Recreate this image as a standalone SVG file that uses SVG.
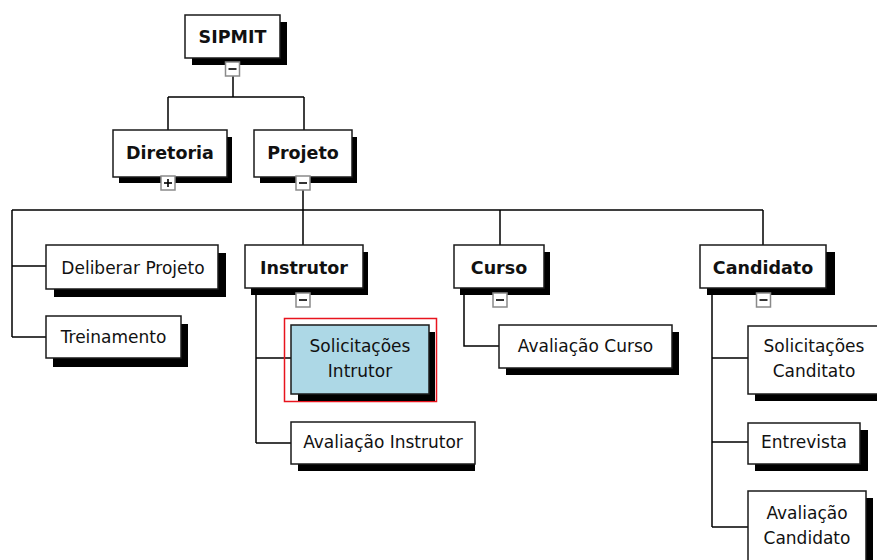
<svg xmlns="http://www.w3.org/2000/svg" width="877" height="560" viewBox="0 0 877 560">
<defs>
<style>
.box{fill:#fff;stroke:#1a1a1a;stroke-width:1.5}
.sel{fill:#add8e6;stroke:#1a1a1a;stroke-width:1.5}
.sh{fill:#000}
.c{fill:none;stroke:#000;stroke-width:1.5}
.b{font-family:"DejaVu Sans",Verdana,sans-serif;font-weight:bold;font-size:17.5px;fill:#111;text-anchor:middle}
.r{font-family:"DejaVu Sans",Verdana,sans-serif;font-size:17px;fill:#111;text-anchor:middle}
.tg{fill:#fff;stroke:#8a8a8a;stroke-width:1.5}
.tm{stroke:#000;stroke-width:1.6}
</style>
</defs>
<rect width="877" height="560" fill="#fff"/>
<g id="connectors">
<path class="c" d="M233 76V97M168 97H304M168 97V130M304 97V130"/>
<path class="c" d="M303 190V210M12 210H763M12 210V337M12 266H46M12 337H46"/>
<path class="c" d="M303 210V245M500 210V245M763 210V245"/>
<path class="c" d="M256 295V443M256 358H291M256 443H291"/>
<path class="c" d="M464 295V346H499"/>
<path class="c" d="M712 295V527M712 358H748M712 442H748M712 527H748"/>
</g>
<g id="sipmit">
<rect class="sh" x="192" y="22" width="95" height="43"/>
<rect class="box" x="185" y="15" width="95" height="43"/>
<text class="b" x="232.5" y="43">SIPMIT</text>
<rect class="tg" x="225.5" y="62" width="14" height="14"/>
<line class="tm" x1="228.5" y1="69" x2="236.5" y2="69"/>
</g>
<g id="diretoria">
<rect class="sh" x="119" y="137" width="113" height="46"/>
<rect class="box" x="113" y="130" width="114" height="47"/>
<text class="b" x="170" y="159">Diretoria</text>
<rect class="tg" x="161" y="176" width="14" height="14"/>
<line class="tm" x1="164" y1="183" x2="172" y2="183"/>
<line class="tm" x1="168" y1="179" x2="168" y2="187"/>
</g>
<g id="projeto">
<rect class="sh" x="260" y="137" width="97" height="46"/>
<rect class="box" x="254" y="130" width="98" height="47"/>
<text class="b" x="303" y="159">Projeto</text>
<rect class="tg" x="296" y="176" width="14" height="14"/>
<line class="tm" x1="299" y1="183" x2="307" y2="183"/>
</g>
<g id="deliberar">
<rect class="sh" x="54" y="253" width="172" height="44"/>
<rect class="box" x="46" y="245" width="172" height="44"/>
<text class="r" x="133" y="274">Deliberar Projeto</text>
</g>
<g id="treinamento">
<rect class="sh" x="53" y="324" width="135" height="43"/>
<rect class="box" x="46" y="316" width="135" height="42"/>
<text class="r" x="113.5" y="343">Treinamento</text>
</g>
<g id="instrutor">
<rect class="sh" x="251" y="252" width="117" height="43"/>
<rect class="box" x="245" y="245" width="118" height="43"/>
<text class="b" x="304" y="274">Instrutor</text>
<rect class="tg" x="296" y="293" width="14" height="14"/>
<line class="tm" x1="299" y1="300" x2="307" y2="300"/>
</g>
<g id="solicitacoes-instrutor">
<rect x="284.5" y="318.5" width="152" height="83" fill="none" stroke="#e8141e" stroke-width="1.5"/>
<rect class="sh" x="298" y="332" width="137" height="69"/>
<rect class="sel" x="291" y="325" width="138" height="69"/>
<text class="r" x="360" y="352">Solicitações</text>
<text class="r" x="360" y="377">Intrutor</text>
</g>
<g id="avaliacao-instrutor">
<rect class="sh" x="298" y="429" width="177" height="42"/>
<rect class="box" x="291" y="422" width="184" height="42"/>
<text class="r" x="383" y="448">Avaliação Instrutor</text>
</g>
<g id="curso">
<rect class="sh" x="460" y="252" width="90" height="43"/>
<rect class="box" x="454" y="245" width="90" height="43"/>
<text class="b" x="499" y="274">Curso</text>
<rect class="tg" x="493" y="293" width="14" height="14"/>
<line class="tm" x1="496" y1="300" x2="504" y2="300"/>
</g>
<g id="avaliacao-curso">
<rect class="sh" x="506" y="332" width="173" height="43"/>
<rect class="box" x="499" y="325" width="173" height="43"/>
<text class="r" x="585.5" y="352">Avaliação Curso</text>
</g>
<g id="candidato">
<rect class="sh" x="707" y="252" width="128" height="43"/>
<rect class="box" x="700" y="245" width="126" height="43"/>
<text class="b" x="763" y="274">Candidato</text>
<rect class="tg" x="756.5" y="293" width="14" height="14"/>
<line class="tm" x1="759.5" y1="300" x2="767.5" y2="300"/>
</g>
<g id="solicitacoes-candidato">
<rect class="sh" x="755" y="333" width="130" height="68"/>
<rect class="box" x="748" y="326" width="132" height="68"/>
<text class="r" x="814" y="352">Solicitações</text>
<text class="r" x="814" y="377">Canditato</text>
</g>
<g id="entrevista">
<rect class="sh" x="755" y="430" width="113" height="41"/>
<rect class="box" x="748" y="423" width="112" height="41"/>
<text class="r" x="804" y="448">Entrevista</text>
</g>
<g id="avaliacao-candidato">
<rect class="sh" x="755" y="498" width="118" height="70"/>
<rect class="box" x="748" y="491" width="118" height="75"/>
<text class="r" x="807" y="519">Avaliação</text>
<text class="r" x="807" y="544">Candidato</text>
</g>
</svg>
